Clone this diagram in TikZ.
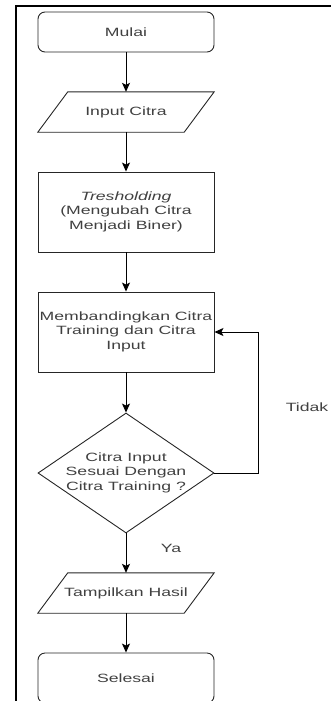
\documentclass[tikz,border=0pt]{standalone}
\usepackage{fontspec}
\setmainfont{Liberation Sans}
\usepackage{graphicx}
\usetikzlibrary{arrows.meta,shapes.geometric}
\newcommand{\wtxt}[1]{\scalebox{1.47}[1]{#1}}
\newcommand{\wlines}[1]{\scalebox{1.47}[1]{\begin{tabular}{@{}c@{}}#1\end{tabular}}}
\begin{document}
\begin{tikzpicture}[x=1pt,y=-1pt,
  font=\fontsize{12}{14.4}\selectfont, text=black!75,
  outline/.style={draw=black!85, line width=0.9pt},
  flow/.style={outline, minimum width=176pt, minimum height=40pt, inner sep=0pt, align=center},
  procbox/.style={flow, minimum height=80pt},
  term/.style={flow, rounded corners=7pt},
  iobox/.style={minimum width=146pt, minimum height=40pt, inner sep=0pt},
  arr/.style={draw=black, line width=1pt, -{Stealth[length=9pt,width=8pt,inset=2pt]}},
  framebar/.style={line width=2pt, draw=black},
  lbl/.style={inner sep=0pt}]
\useasboundingbox (0,0) rectangle (331,701);
\clip (0,0) rectangle (331,701);
\draw[framebar] (16,701) -- (16,6) -- (331,6);

\node[term] (mulai) at (126,32) {\wtxt{Mulai}};
\node[iobox] (input) at (126,112) {\wtxt{Input Citra}};
\draw[outline] ([xshift=15pt]input.north west) -- ([xshift=15pt]input.north east)
  -- ([xshift=-15pt]input.south east) -- ([xshift=-15pt]input.south west) -- cycle;
\node[procbox] (thr) at (126,212) {\wlines{\textit{Tresholding}\\(Mengubah Citra\\Menjadi Biner)}};
\node[procbox] (memb) at (126,332) {\wlines{Membandingkan Citra\\Training dan Citra\\Input}};
\node[diamond, outline, minimum width=176pt, minimum height=120pt, inner sep=0pt] (dec) at (126,473) {};
\node[lbl] (dectext) at (dec.center) {\wlines{Citra Input\\Sesuai Dengan\\Citra Training ?}};
\node[iobox] (hasil) at (126,593) {\wtxt{Tampilkan Hasil}};
\draw[outline] ([xshift=15pt]hasil.north west) -- ([xshift=15pt]hasil.north east)
  -- ([xshift=-15pt]hasil.south east) -- ([xshift=-15pt]hasil.south west) -- cycle;
\node[term, minimum height=50pt] (selesai) at (126,678) {\wtxt{Selesai}};

\draw[arr] (mulai) -- (input);
\draw[arr] (input) -- (thr);
\draw[arr] (thr) -- (memb);
\draw[arr] (memb) -- (dec);
\draw[arr] (dec) -- (hasil);
\draw[arr] (hasil) -- (selesai);
\draw[arr] (dec.east) -- ++(44,0) |- (memb.east);

\node[lbl] (tidak) at (307,407) {\wtxt{Tidak}};
\node[lbl] (ya) at (171,548) {\wtxt{Ya}};
\end{tikzpicture}
\end{document}
